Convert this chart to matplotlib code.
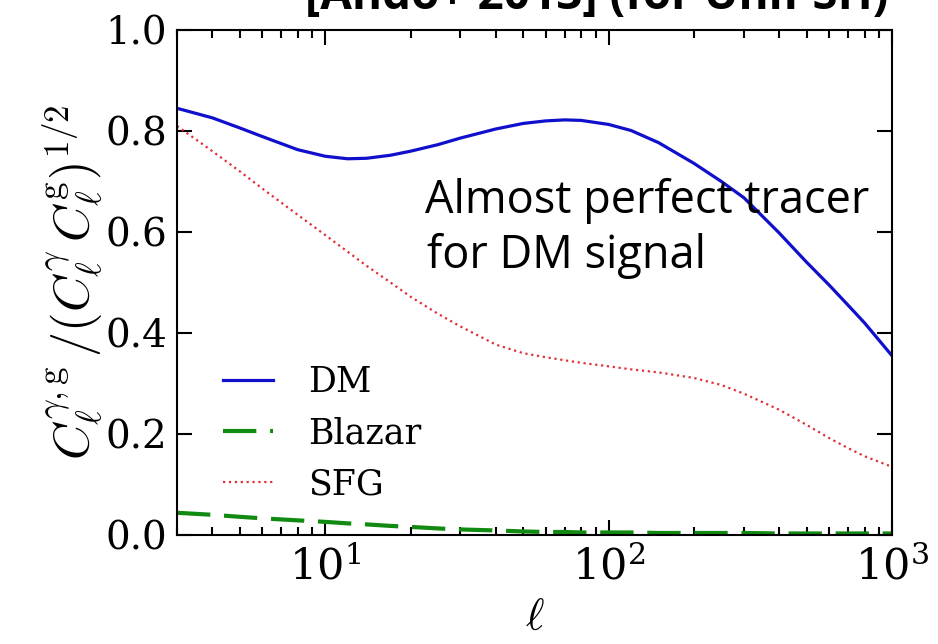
import numpy as np
import matplotlib
matplotlib.use("Agg")
import matplotlib.pyplot as plt

plt.rcParams["mathtext.fontset"] = "cm"
plt.rcParams["font.family"] = "serif"
plt.rcParams["font.serif"] = ["DejaVu Serif"]

# multipole grid and cross-correlation coefficients
ell = [3, 4, 5, 6, 8, 10, 12, 14, 17, 20, 25, 30, 40, 50, 60, 70, 80,
       100, 120, 150, 200, 250, 300, 400, 500, 600, 700, 800, 1000]
dm = [0.845, 0.826, 0.806, 0.789, 0.763, 0.750, 0.745, 0.746, 0.752, 0.760,
      0.773, 0.786, 0.804, 0.815, 0.820, 0.822, 0.821, 0.813, 0.801, 0.777,
      0.736, 0.700, 0.668, 0.598, 0.540, 0.495, 0.455, 0.420, 0.355]
blazar = [0.044, 0.040, 0.036, 0.033, 0.029, 0.026, 0.023, 0.021, 0.018, 0.016,
          0.013, 0.011, 0.009, 0.007, 0.006, 0.006, 0.005, 0.005, 0.005, 0.004,
          0.004, 0.004, 0.004, 0.003, 0.003, 0.003, 0.003, 0.003, 0.003]
sfg = [0.810, 0.760, 0.720, 0.686, 0.634, 0.594, 0.561, 0.533, 0.500, 0.472,
       0.438, 0.413, 0.377, 0.360, 0.352, 0.346, 0.341, 0.334, 0.328, 0.322,
       0.311, 0.297, 0.280, 0.248, 0.218, 0.192, 0.172, 0.156, 0.135]
yticks = [0.0, 0.2, 0.4, 0.6, 0.8, 1.0]

fig = plt.figure(figsize=(9.38, 6.44), dpi=100)
ax = fig.add_axes([177/938, 1 - 535/644, 715/938, 505/644])

ax.plot(ell, dm, color="#1010cc", lw=2.3, label="DM")
ax.plot(ell, blazar, color="#108a10", lw=3.0, dashes=(8, 3.3), label="Blazar")
ax.plot(ell, sfg, color="#e0303a", lw=1.6, ls=":", label="SFG")

ax.set_xscale("log")
ax.set_xlim(3, 1000)
ax.set_ylim(0, 1)
ax.set_yticks(yticks)
ax.set_yticklabels([f"{v:.1f}" for v in yticks])

for s in ax.spines.values():
    s.set_linewidth(1.5)
ax.tick_params(which="both", direction="in", top=True, right=True, width=1.5)
ax.tick_params(which="major", length=11)
ax.tick_params(which="minor", length=5.5)
ax.tick_params(axis="y", labelsize=28, pad=7)
ax.tick_params(axis="x", labelsize=31, pad=8)

ax.set_xlabel(r"$\ell$", fontsize=32)
ax.xaxis.set_label_coords(0.5, -0.12)
ax.set_ylabel(r"$C_\ell^{\gamma,\mathrm{g}}\,/(C_\ell^{\gamma}\,C_\ell^{\mathrm{g}})^{1/2}$",
              fontsize=36)
ax.yaxis.set_label_coords(-0.1, 0.5)

leg = ax.legend(loc="lower left", bbox_to_anchor=(0.03, 0.018), frameon=False,
                fontsize=25, handlelength=1.45, handletextpad=1.0,
                labelspacing=0.5, borderpad=0.2)

ax.text(0.347, 0.638, "Almost perfect tracer", transform=ax.transAxes,
        family="Open Sans", fontsize=32.5, va="baseline", ha="left")
ax.text(0.35, 0.529, "for DM signal", transform=ax.transAxes,
        family="Open Sans", fontsize=32.5, va="baseline", ha="left")

fig.text(888/938, 1 - 9/644, "[Ando+ 2013] (for Unif SH)", ha="right",
         va="baseline", family="Open Sans", fontweight="bold", fontsize=33)

fig.savefig("out.png", dpi=100)
